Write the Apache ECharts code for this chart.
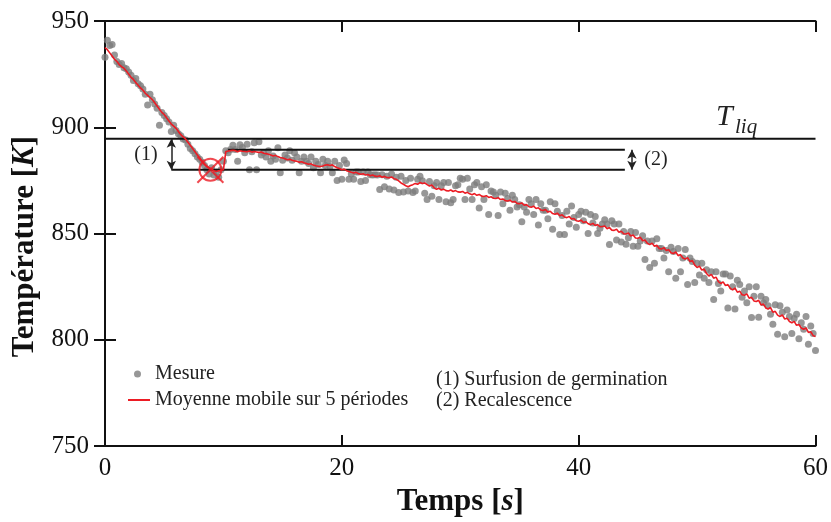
<!DOCTYPE html>
<html><head><meta charset="utf-8">
<script src="https://cdn.jsdelivr.net/npm/echarts@6/dist/echarts.min.js"></script>
<style>html,body{margin:0;padding:0;background:#fff}#c{width:831px;height:522px}</style>
</head><body><div id="c"></div>
<script>
// ---- data ----
const T_START = 0, T_STEP = 0.2;           // sampling of the measurements (s)
const mesure = [
933,941,938.5,939,934,
931,929.5,930,928,927.5,
926,924.5,922,923,920.5,
919.5,918,915.5,910.5,915.5,
913,911,909,901,907,
905.5,904,902.5,898,901,
898.5,897,896,894.5,894,
892,890,889,887.5,886,
885,883.5,882,880,878,
881,877.5,879,876.5,880,
884,889,888,889.5,891.5,
889.5,884,891.8,890.5,888,
892,880,888.5,892.7,880,
893.2,887,888,886,889,
884,886.5,885,890.4,878.6,
884.5,887,885.5,889,884.5,
888,886,878.6,884,886,
884,883,886,881,884,
882.5,878.6,885,882,884,
881.5,878.6,884,875,882,
875.5,884.6,883,875.6,878,
875.6,879,879,874.5,879,
875,879,877.7,877.5,877.7,
877.5,870.7,877.7,872,877,
871,878,870.5,876.5,869.3,
877,869.5,875,870,876,
869.3,870,875.6,877,874.8,
869,866,874.5,867.5,872.5,
874,866,872.5,874,865,
874,864.5,866,872.5,873,
876,875.5,866,876,871,
866,873,874,862,872,
866,873,859,870,869.5,
868,858.5,869.5,864,869,
866.5,861,868,866,862.5,
863.5,855.6,862.5,860,866,
864,859,866,854,864,
861,861,857,865,852,
864,860.5,849.5,858.5,849.5,
860.5,854.5,863,857.5,853,
859,860.5,856,860,850,
859,855,858,850,852.5,
854.5,856.5,854.5,844.8,856,
854.5,847,854.5,846,851,
845,848,851,844,850.5,
844,846.5,849,837.8,846.5,
834,846.5,836,847.5,843,
843,838.5,842,832,843.5,
841.5,829,843,832,838.5,
842.5,826,838.5,836.8,827,
836,830.5,836,829,833,
827,832,819,832,826.5,
823,831,831,815,830,
825,814.5,828,826,820,
823,817.5,825,810.5,820.5,
825,810.6,820.5,817.5,819,
816,812,807.3,816.5,802.6,
816,813,801.5,814,811,
803,810,812,800.5,808,
805,811,797.9,806.5,803,
795
];
const moyenne = [
937.5,936.5,935,933.5,932,
931,929.5,928.5,927.8,926.5,
925,923.5,922.5,921,919.8,
918.5,917.5,916,915,914,
913,911.5,910,908.5,907,
906,904.5,903,901.5,900.5,
899.5,898,896.5,895.5,894.5,
893,891.5,890,888.5,887,
885.5,884,882.5,881.5,881,
880.5,879.5,879.2,879.5,879.8,
880,888.5,888.8,889,889.2,
889,888.5,889,888.7,888.6,
888.5,888.8,888.3,888.6,888.4,
888.2,888.4,887.8,887.6,887.3,
887,886.5,886.8,886.2,885.8,
885.5,885.2,884.7,884.9,884.5,
884.2,884,883.6,883.8,883.3,
883,882.6,882.8,882.2,881.9,
881.7,881.5,881.8,882.2,882.4,
882,882.3,881.5,881,880.6,
880,880.3,879.6,879.2,878.8,
878.5,878.8,878.2,877.9,878.1,
877.5,877.8,877.2,877.5,877,
876.8,877.2,876.5,876.9,876.4,
876.3,876.6,875.8,875.5,874.8,
873.8,873.2,872.5,872,872.6,
873,873.6,873.2,874,873.5,
873.8,873,872.4,872.8,871.5,
870.8,871.3,870.5,870.9,870.2,
870,870.5,869.8,870.2,869.6,
869.5,869.8,869,869.4,868.7,
868.3,868.8,868,868.4,867.6,
867.4,867.8,867,867.3,866.6,
866.5,866.9,866,866.3,865.5,
865.3,865.7,864.8,865.1,864.2,
864,864.4,863.3,863.6,862.6,
862.4,862.9,861.8,862.1,861.1,
860.8,861.3,860.1,860.5,859.4,
859.1,859.6,858.4,858.8,857.8,
857.5,858,856.8,857.1,856,
855.8,856.3,855.2,855.6,854.6,
854.2,854.8,853.8,854.2,853.2,
853.3,853.6,852.3,852.8,851.6,
851.5,852,850.6,851.1,849.9,
849.8,850.3,848.8,849.3,847.9,
847.8,848.3,846.6,847,845.4,
844.8,845.5,844,844.5,843,
842.7,843.4,842,842.4,841,
840.6,841.3,839.6,840.1,838.5,
838,838.7,836.8,837.3,835.2,
834,834.7,832.8,833.3,831.2,
830,830.8,829,829.5,827.4,
826.5,827.3,825.5,826,824.2,
823.5,824.3,822.4,822.9,821.2,
821,821.6,819.6,820,818.3,
818,818.6,816.4,816.8,815,
814.5,815.2,813,813.4,811.6,
811,811.7,809.8,810.2,808.6,
808,808.7,806.8,807.2,805.6,
805,805.6,803.5,803.8,802,
801.5
];
const xRange = [0, 60];
const yRange = [750, 950];
const xTickStep = 20;
const yTickStep = 50;
// annotation levels (K) and their time spans (s)
const T_LIQ = 894.6;
const RECAL_LEVEL = 889.4;
const GERM_LEVEL = 880.0;
const liqSpan = [0, 60];
const recalSpan = [10.4, 43.9];
const germSpan = [5.6, 43.9];
const arrow1 = [5.6, T_LIQ, GERM_LEVEL];
const arrow2 = [44.5, RECAL_LEVEL, GERM_LEVEL];
const germPoint = [8.9, 880];
const seriesNames = ['Mesure', 'Moyenne mobile sur 5 périodes'];

// ---- chart ----
const SERIF = '"Liberation Serif", "Times New Roman", serif';
const chart = echarts.init(document.getElementById('c'));
const toXY = arr => arr.map((v, i) => [+(T_START + i * T_STEP).toFixed(2), v]);
const BLACK = '#111';
const RED = '#ec1c24';

function hLine(level, span) {
  return {
    type: 'line', data: [[span[0], level], [span[1], level]],
    symbol: 'none', silent: true, z: 3,
    lineStyle: { color: BLACK, width: 2 }
  };
}
const axisCommon = {
  type: 'value',
  axisLine: { show: true, lineStyle: { color: BLACK, width: 2 } },
  axisTick: { show: true, inside: true, length: 11, lineStyle: { color: BLACK, width: 2 } },
  splitLine: { show: false }
};

chart.setOption({
  animation: false,
  backgroundColor: '#fff',
  grid: { left: 105, right: 15, top: 21, bottom: 75, containLabel: false },
  xAxis: [
    Object.assign({}, axisCommon, {
      min: xRange[0], max: xRange[1], interval: xTickStep, position: 'bottom',
      axisLabel: { fontFamily: SERIF, fontSize: 25, color: BLACK, margin: 10 },
      name: 'Temps [{i|s}]', nameLocation: 'middle', nameGap: 36,
      nameTextStyle: {
        fontFamily: SERIF, fontSize: 31, fontWeight: 'bold', color: BLACK,
        rich: { i: { fontFamily: SERIF, fontSize: 31, fontWeight: 'bold', fontStyle: 'italic', color: BLACK } }
      }
    }),
    Object.assign({}, axisCommon, {
      min: xRange[0], max: xRange[1], interval: xTickStep, position: 'top',
      axisLabel: { show: false }
    })
  ],
  yAxis: [
    Object.assign({}, axisCommon, {
      min: yRange[0], max: yRange[1], interval: yTickStep, position: 'left',
      axisLabel: { fontFamily: SERIF, fontSize: 25, color: BLACK, margin: 16 },
      name: 'Température [{i|K}]', nameLocation: 'middle', nameGap: 60,
      nameTextStyle: {
        fontFamily: SERIF, fontSize: 31, fontWeight: 'bold', color: BLACK,
        padding: [0, 26, 0, 0],
        rich: { i: { fontFamily: SERIF, fontSize: 31, fontWeight: 'bold', fontStyle: 'italic', color: BLACK } }
      }
    }),
    Object.assign({}, axisCommon, {
      min: yRange[0], max: yRange[1], interval: yTickStep, position: 'right',
      axisLabel: { show: false }
    })
  ],
  legend: [
    {
      data: [{ name: seriesNames[0], icon: 'circle' }],
      left: 134, top: 364, itemWidth: 7, itemHeight: 7, symbolKeepAspect: true,
      selectedMode: false, padding: 0,
      textStyle: { fontFamily: SERIF, fontSize: 20, color: '#222', padding: [0, 0, 0, 9] }
    },
    {
      data: [{ name: seriesNames[1], icon: 'rect' }],
      left: 128, top: 390, itemWidth: 22, itemHeight: 2,
      selectedMode: false, padding: 0,
      textStyle: { fontFamily: SERIF, fontSize: 20, color: '#222' }
    }
  ],
  series: [
    {
      name: seriesNames[0], type: 'scatter', data: toXY(mesure),
      symbolSize: 7, itemStyle: { color: '#7d7d7d' }, z: 2
    },
    hLine(T_LIQ, liqSpan),
    hLine(RECAL_LEVEL, recalSpan),
    hLine(GERM_LEVEL, germSpan),
    {
      name: seriesNames[1], type: 'line', data: toXY(moyenne),
      showSymbol: false, symbol: 'none', z: 5,
      lineStyle: { color: RED, width: 1.6 }, itemStyle: { color: RED }
    },
    {
      type: 'line', data: [], silent: true, z: 4,
      markLine: {
        silent: true, symbol: ['arrow', 'arrow'], symbolSize: [7, 9],
        label: { show: false },
        lineStyle: { color: '#222', width: 1.5, type: 'solid' },
        data: [
          [{ coord: [arrow1[0], arrow1[1]] }, { coord: [arrow1[0], arrow1[2]] }],
          [{ coord: [arrow2[0], arrow2[1]] }, { coord: [arrow2[0], arrow2[2]] }]
        ]
      }
    },
    {
      type: 'scatter', data: [germPoint], silent: true, z: 6,
      symbol: 'circle', symbolSize: 22,
      itemStyle: { color: 'rgba(0,0,0,0)', borderColor: RED, borderWidth: 2 }
    },
    {
      type: 'scatter', data: [germPoint], silent: true, z: 6,
      symbol: 'path://M0,0L20,20M20,0L0,20', symbolSize: 26,
      itemStyle: { color: 'none', borderColor: RED, borderWidth: 2 }
    }
  ],
  graphic: [
    { type: 'text', x: 146, y: 155, style: { text: '(1)', font: '20px ' + SERIF, fill: '#222', align: 'center', verticalAlign: 'middle' } },
    { type: 'text', x: 656, y: 160, style: { text: '(2)', font: '20px ' + SERIF, fill: '#222', align: 'center', verticalAlign: 'middle' } },
    { type: 'text', x: 716, y: 117, style: { text: 'T', font: 'italic 30px ' + SERIF, fill: '#222', align: 'left', verticalAlign: 'middle' } },
    { type: 'text', x: 735, y: 127, style: { text: 'liq', font: 'italic 21px ' + SERIF, fill: '#222', align: 'left', verticalAlign: 'middle' } },
    { type: 'text', x: 436, y: 380, style: { text: '(1) Surfusion de germination', font: '20px ' + SERIF, fill: '#222', align: 'left', verticalAlign: 'middle' } },
    { type: 'text', x: 436, y: 401, style: { text: '(2) Recalescence', font: '20px ' + SERIF, fill: '#222', align: 'left', verticalAlign: 'middle' } }
  ]
});
</script>
</body></html>
